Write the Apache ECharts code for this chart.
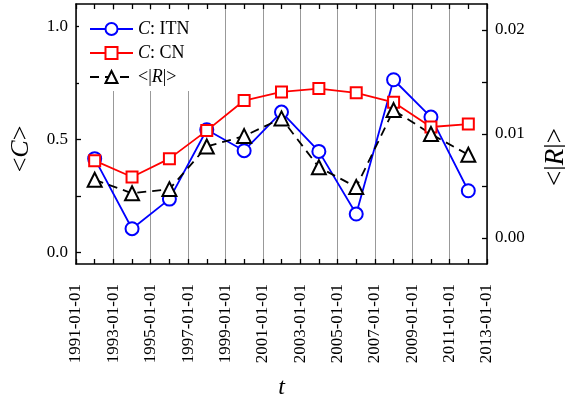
<!DOCTYPE html>
<html>
<head>
<meta charset="utf-8">
<script src="https://cdn.jsdelivr.net/npm/echarts@6/dist/echarts.min.js"></script>
<style>
html,body{margin:0;padding:0;background:#fff;}
#chart{width:565px;height:403px;}
</style>
</head>
<body>
<div id="chart"></div>
<script>
// ---- data ----
const years = [1992, 1994, 1996, 1998, 2000, 2002, 2004, 2006, 2008, 2010, 2012];
const cITN = [0.416, 0.106, 0.237, 0.544, 0.451, 0.622, 0.448, 0.171, 0.765, 0.600, 0.274];
const cCN  = [0.407, 0.335, 0.416, 0.540, 0.673, 0.711, 0.726, 0.707, 0.665, 0.556, 0.569];
const rAbs = [0.0056, 0.0043, 0.0047, 0.0088, 0.0098, 0.0115, 0.0068, 0.0049, 0.0123, 0.0100, 0.0080];
const leftTicks = [0, 0.25, 0.5, 0.75, 1.0];
const leftLabels = [0, 0.5, 1.0];
const rightTicks = [0, 0.005, 0.01, 0.015, 0.02];
const rightLabels = [0, 0.01, 0.02];

const FONT = '"Liberation Serif", "Times New Roman", serif';
const pairs = (xs, ys) => xs.map((x, i) => [x, ys[i]]);
const italic = { fontStyle: 'italic', fontFamily: FONT };

const chart = echarts.init(document.getElementById('chart'));
const xCommon = {
  type: 'value', min: 1991, max: 2013, interval: 2,
  axisLine: { show: true, onZero: false, lineStyle: { color: '#000', width: 1.5 } },
  axisTick: { show: true, inside: true, length: 5, lineStyle: { color: '#000', width: 1.3 } },
  minorTick: { show: true, splitNumber: 2, length: 5, lineStyle: { color: '#000', width: 1.3 } },
};
const option = {
  animation: false,
  backgroundColor: '#fff',
  textStyle: { fontFamily: FONT },
  grid: { left: 76, right: 78, top: 4, bottom: 139, containLabel: false, outerBoundsMode: 'none' },
  legend: {
    orient: 'vertical', left: 79, top: 10,
    backgroundColor: '#fff',
    padding: [10, 14, 5, 10],
    itemWidth: 43, itemHeight: 15, itemGap: 6,
    textStyle: { fontFamily: FONT, fontSize: 18, color: '#000',
      rich: { i: Object.assign({ fontSize: 18, color: '#000' }, italic) } },
    formatter: function (name) {
      if (name === 'C: ITN') return '{i|C}: ITN';
      if (name === 'C: CN') return '{i|C}: CN';
      return '<|{i|R}|>';
    },
    data: ['C: ITN', 'C: CN', { name: '<|R|>', itemStyle: { borderWidth: 3 } }]
  },
  xAxis: [
    Object.assign({}, xCommon, {
      position: 'bottom',
      name: 't', nameLocation: 'middle', nameGap: 112,
      nameTextStyle: Object.assign({ fontSize: 24, color: '#000' }, italic),
      axisLabel: { rotate: 90, margin: 20, fontFamily: FONT, fontSize: 17, color: '#000',
        formatter: v => v + '-01-01' },
      splitLine: { show: true, lineStyle: { color: '#999', width: 1 } }
    }),
    Object.assign({}, xCommon, {
      position: 'top',
      axisLabel: { show: false },
      splitLine: { show: false }
    })
  ],
  yAxis: [
    {
      type: 'value', min: -0.05, max: 1.1, position: 'left',
      name: '<{i|C}>', nameLocation: 'middle', nameGap: 42, nameRotate: 90,
      nameTextStyle: { fontFamily: FONT, fontSize: 26, color: '#000', padding: [0, 30, 0, 0],
        rich: { i: Object.assign({ fontSize: 26, color: '#000' }, italic) } },
      axisLine: { show: true, onZero: false, lineStyle: { color: '#000', width: 1.5 } },
      axisTick: { show: true, inside: true, length: 5, customValues: leftTicks, lineStyle: { color: '#000', width: 1.3 } },
      axisLabel: { margin: 8, fontFamily: FONT, fontSize: 17, color: '#000', customValues: leftLabels,
        formatter: v => v.toFixed(1) },
      splitLine: { show: false }
    },
    {
      type: 'value', min: -0.0025, max: 0.0225, position: 'right',
      name: '<|{i|R}|>', nameLocation: 'middle', nameGap: 55, nameRotate: 90,
      nameTextStyle: { fontFamily: FONT, fontSize: 27, color: '#000', padding: [0, 46, 0, 0],
        rich: { i: Object.assign({ fontSize: 27, color: '#000' }, italic) } },
      axisLine: { show: true, onZero: false, lineStyle: { color: '#000', width: 1.5 } },
      axisTick: { show: true, inside: true, length: 5, customValues: rightTicks, lineStyle: { color: '#000', width: 1.3 } },
      axisLabel: { margin: 8, fontFamily: FONT, fontSize: 17, color: '#000', customValues: rightLabels,
        formatter: v => v.toFixed(2) },
      splitLine: { show: false }
    }
  ],
  series: [
    {
      name: 'C: ITN', type: 'line', xAxisIndex: 0, yAxisIndex: 0,
      data: pairs(years, cITN),
      symbol: 'emptyCircle', symbolSize: 13,
      lineStyle: { color: '#0000ff', width: 1.8 },
      itemStyle: { color: '#0000ff', borderColor: '#0000ff', borderWidth: 2 }
    },
    {
      name: 'C: CN', type: 'line', xAxisIndex: 0, yAxisIndex: 0,
      data: pairs(years, cCN),
      symbol: 'emptyRect', symbolSize: 11,
      lineStyle: { color: '#ff0000', width: 1.8 },
      itemStyle: { color: '#ff0000', borderColor: '#ff0000', borderWidth: 2 }
    },
    {
      name: '<|R|>', type: 'line', xAxisIndex: 0, yAxisIndex: 1,
      data: pairs(years, rAbs),
      symbol: 'emptyTriangle', symbolSize: 14,
      lineStyle: { color: '#000', width: 1.8, type: [9, 6] },
      itemStyle: { color: '#000', borderColor: '#000', borderWidth: 2.2 }
    }
  ]
};
chart.setOption(option);
</script>
</body>
</html>
